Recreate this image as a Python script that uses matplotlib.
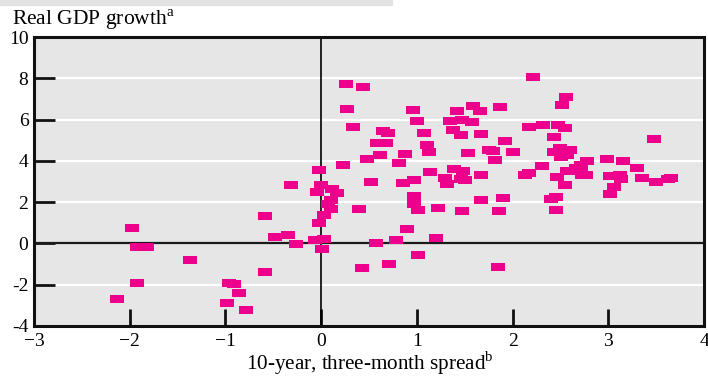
import matplotlib
matplotlib.use("Agg")
import matplotlib.pyplot as plt
from matplotlib.patches import Rectangle

plt.rcParams['font.family'] = ['Liberation Serif', 'DejaVu Serif']
plt.rcParams['mathtext.fontset'] = 'custom'
plt.rcParams['mathtext.rm'] = 'Liberation Serif'

# 10-year minus three-month spread (x) and real GDP growth (y)
spread = [
    -2.13, -1.98, -1.92, -1.82, -1.92, -1.37, -0.96, -0.91, -0.86, -0.98,
    -0.78, -0.59, -0.59, -0.48, -0.35, -0.26, -0.31,
    -0.02, 0.00, -0.04, 0.11, 0.17, 0.10, 0.10, 0.07, 0.03, -0.02, -0.06,
    0.03, 0.01,
    0.23, 0.26, 0.44, 0.27, 0.33, 0.65, 0.70, 0.58, 0.68, 0.61, 0.48, 0.81,
    0.88, 0.96, 1.00, 1.07, 1.11, 1.13, 1.14, 0.52, 0.86, 0.97, 0.97, 0.97,
    1.01, 0.40, 1.22, 0.90, 0.57, 0.78, 1.20, 1.01, 0.43, 0.71,
    1.29, 1.32, 1.39, 1.48, 1.46, 1.50, 1.67, 1.47, 1.86, 1.67, 1.90, 1.85,
    2.21, 2.56, 2.52, 1.59, 1.87, 1.42, 1.66, 1.35, 1.47, 1.58, 1.38, 1.46,
    1.67, 2.17, 2.32, 2.47, 2.55, 2.43, 1.92, 1.53, 1.75, 1.80, 2.00, 1.82,
    2.43, 2.50, 2.60, 2.51, 2.57, 2.31, 2.13, 2.17, 2.46, 2.55, 2.45, 2.40,
    2.45,
    2.57, 2.66, 2.64, 2.71, 2.72, 2.78, 2.73, 2.77, 2.99, 3.15, 3.30, 3.48,
    3.02, 3.12, 3.13, 3.35, 3.50, 3.62, 3.65, 3.02, 3.06,
]
gdp = [
    -2.68, 0.76, -0.18, -0.18, -1.90, -0.79, -1.90, -1.95, -2.39, -2.87,
    -3.21, 1.31, -1.37, 0.32, 0.39, -0.05, 2.84,
    3.57, 2.81, 2.50, 2.65, 2.42, 2.10, 1.65, 1.89, 1.40, 0.97, 0.16,
    0.23, -0.29,
    3.81, 7.73, 7.59, 6.52, 5.65, 5.46, 5.36, 4.88, 4.88, 4.30, 4.10, 3.91,
    4.34, 6.47, 5.94, 5.36, 4.78, 4.44, 3.47, 2.99, 2.94, 3.08, 2.31, 1.92,
    1.63, 1.68, 1.73, 0.71, 0.03, 0.18, 0.28, -0.55, -1.18, -0.98,
    3.18, 2.89, 3.62, 3.52, 3.13, 3.08, 3.33, 1.58, 1.58, 2.12, 2.21, -1.13,
    8.07, 7.10, 6.72, 6.67, 6.62, 6.43, 6.43, 5.94, 5.99, 5.89, 5.51, 5.27,
    5.31, 5.65, 5.75, 5.75, 5.60, 5.17, 4.97, 4.39, 4.54, 4.49, 4.44, 4.05,
    4.44, 4.63, 4.54, 4.20, 4.30, 3.76, 3.33, 3.42, 3.23, 2.84, 1.63, 2.16,
    2.26,
    3.50, 3.66, 3.50, 3.81, 3.71, 4.00, 3.33, 3.33, 4.10, 4.00, 3.66, 5.07,
    3.28, 3.33, 3.13, 3.18, 2.99, 3.13, 3.18, 2.41, 2.72,
]

x_ticks = [-3, -2, -1, 0, 1, 2, 3, 4]
y_ticks = [-4, -2, 0, 2, 4, 6, 8, 10]
grid_y = [-2, 2, 4, 6, 8]

fig = plt.figure(figsize=(7.08, 3.76), dpi=100)
fig.patches.append(Rectangle((0, 1 - 5 / 376), 392 / 708, 5 / 376,
                             transform=fig.transFigure, color='#e3e3e3', zorder=0))
ax = fig.add_axes([34 / 708, 1 - 326 / 376, 670 / 708, 289 / 376])
ax.set_facecolor('#e6e6e6')

for g in grid_y:
    ax.axhline(g, color='white', lw=1.6, zorder=1)
ax.axhline(0, color='#1a1a1a', lw=1.6, zorder=2)
ax.axvline(0, color='black', lw=1.2, zorder=2)

rect = [(-0.5, -0.27), (0.5, -0.27), (0.5, 0.27), (-0.5, 0.27), (-0.5, -0.27)]
ax.plot(spread, gdp, linestyle='none', marker=rect, ms=9.4, mew=0,
        color='#ec008c', zorder=3)

ax.set_xlim(-3, 4)
ax.set_ylim(-4, 10)
ax.set_xticks(x_ticks)
ax.set_xticklabels(['\u2212' + str(-t) if t < 0 else str(t) for t in x_ticks])
ax.set_yticks(y_ticks)
ax.set_yticklabels(['-' + str(-t) if t < 0 else str(t) for t in y_ticks])
ax.tick_params(axis='both', direction='in', width=2, color='#111111',
               labelsize=14)
ax.tick_params(axis='y', length=15, pad=4)
ax.tick_params(axis='x', length=12, pad=5)
for s in ax.spines.values():
    s.set_linewidth(2.2)
    s.set_color('#111111')

fig.text(12 / 708, 1 - 25 / 376, r'Real GDP growth$^{\rm a}$', fontsize=15.5,
         ha='left', va='baseline')
fig.text(370 / 708, 1 - 370 / 376, r'10-year, three-month spread$^{\rm b}$',
         fontsize=15.2, ha='center', va='baseline')

fig.savefig('out.png', dpi=100)
